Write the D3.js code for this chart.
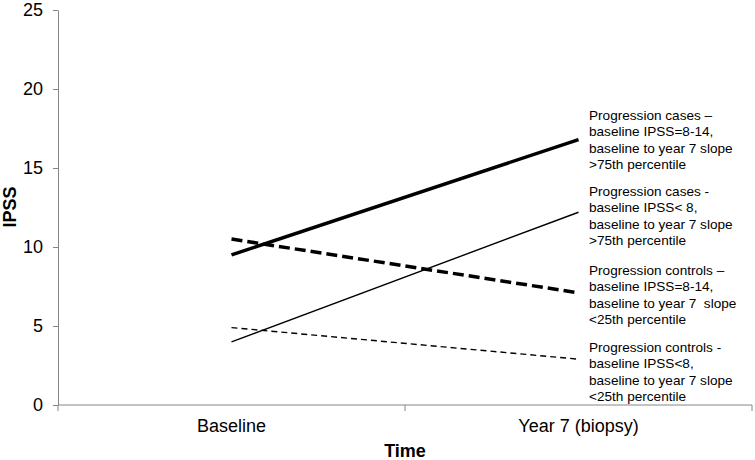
<!DOCTYPE html>
<html>
<head>
<meta charset="utf-8">
<script src="https://cdn.jsdelivr.net/npm/d3@7"></script>
<style>
  html, body { margin: 0; padding: 0; background: #fff; }
  svg text { font-family: "Liberation Sans", Arial, sans-serif; fill: #000; }
</style>
</head>
<body>
<svg id="chart" width="755" height="460"></svg>
<script>
// ---- data ----
const categories = ["Baseline", "Year 7 (biopsy)"];
const yTicks = [0, 5, 10, 15, 20, 25];
const casesHigh = [9.5, 16.8];      // Progression cases – baseline IPSS=8-14
const casesLow = [4.0, 12.2];       // Progression cases - baseline IPSS< 8
const controlsHigh = [10.5, 7.1];   // Progression controls – baseline IPSS=8-14
const controlsLow = [4.9, 2.9];     // Progression controls - baseline IPSS<8
const labelCasesHigh = ["Progression cases \u2013", "baseline IPSS=8-14,", "baseline to year 7 slope", ">75th percentile"];
const labelCasesLow = ["Progression cases -", "baseline IPSS< 8,", "baseline to year 7 slope", ">75th percentile"];
const labelControlsHigh = ["Progression controls \u2013", "baseline IPSS=8-14,", "baseline to year 7  slope", "<25th percentile"];
const labelControlsLow = ["Progression controls -", "baseline IPSS<8,", "baseline to year 7 slope", "<25th percentile"];

// ---- layout ----
const svg = d3.select("#chart");
const mLeft = 58, mRight = 752, mTop = 10, mBottom = 405;
const axisColor = "#868686";

const xBand = d3.scaleBand().domain(categories).range([mLeft, mRight]).paddingInner(0).paddingOuter(0);
const x = d3.scalePoint().domain(categories).range([mLeft, mRight]).padding(0.5);
const y = d3.scaleLinear().domain([0, 25]).range([mBottom, mTop]);

// y axis
const yAxis = svg.append("g")
  .attr("transform", `translate(${mLeft},0)`)
  .call(d3.axisLeft(y).tickValues(yTicks).tickSize(5).tickPadding(10).tickSizeOuter(0));
yAxis.select(".domain").attr("stroke", axisColor);
yAxis.selectAll(".tick line").attr("stroke", axisColor);
yAxis.selectAll(".tick text").style("font-size", "18px").attr("fill", "#000");

// x axis (ticks at category boundaries)
const xg = svg.append("g");
xg.append("line").attr("x1", mLeft).attr("x2", mRight).attr("y1", mBottom).attr("y2", mBottom)
  .attr("stroke", axisColor);
const edges = [xBand(categories[0])].concat(categories.map(c => xBand(c) + xBand.bandwidth()));
xg.selectAll("line.tk").data(edges).join("line").attr("class", "tk")
  .attr("x1", d => d).attr("x2", d => d).attr("y1", mBottom).attr("y2", mBottom + 6)
  .attr("stroke", axisColor);
xg.selectAll("text.cat").data(categories).join("text").attr("class", "cat")
  .attr("x", d => x(d)).attr("y", 432).attr("text-anchor", "middle")
  .style("font-size", "18px").text(d => d);

// axis titles
svg.append("text").attr("x", (mLeft + mRight) / 2).attr("y", 457).attr("text-anchor", "middle")
  .style("font-size", "18px").style("font-weight", "bold").text("Time");
svg.append("text").attr("transform", "translate(16,207) rotate(-90)").attr("text-anchor", "middle")
  .style("font-size", "18px").style("font-weight", "bold").text("IPSS");

// series
const series = [
  { values: casesHigh, width: 3.5, dash: null, label: labelCasesHigh, labelY: 120 },
  { values: casesLow, width: 1.4, dash: null, label: labelCasesLow, labelY: 196 },
  { values: controlsHigh, width: 3.5, dash: "11,5", label: labelControlsHigh, labelY: 275 },
  { values: controlsLow, width: 1.4, dash: "6,4", label: labelControlsLow, labelY: 352 }
];
const line = d3.line().x((d, i) => x(categories[i])).y(d => y(d));
svg.selectAll("path.series").data(series).join("path").attr("class", "series")
  .attr("d", d => line(d.values)).attr("fill", "none").attr("stroke", "#000")
  .attr("stroke-width", d => d.width).attr("stroke-dasharray", d => d.dash);

// labels
series.forEach(s => {
  const t = svg.append("text").attr("x", 589).attr("y", s.labelY)
    .style("font-size", "13.6px").style("white-space", "pre");
  s.label.forEach((ln, i) => {
    t.append("tspan").attr("x", 589).attr("dy", i === 0 ? 0 : 16.3).text(ln);
  });
});
</script>
</body>
</html>
